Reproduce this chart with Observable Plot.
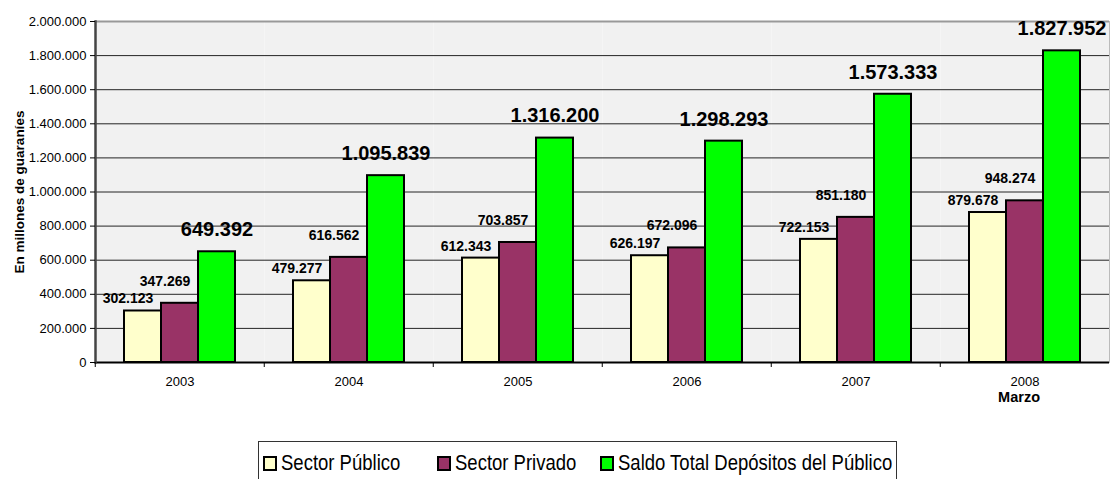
<!DOCTYPE html>
<html>
<head>
<meta charset="utf-8">
<script src="https://cdn.jsdelivr.net/npm/d3@7"></script>
<script src="https://cdn.jsdelivr.net/npm/@observablehq/plot@0.6"></script>
<style>
  html, body { margin: 0; padding: 0; background: #fff; }
  body { width: 1112px; height: 479px; overflow: hidden; font-family: "Liberation Sans", Arial, sans-serif; }
  g[aria-label="y-axis label"] text { font-weight: bold; font-size: 13.5px; }
  #legend { box-sizing: border-box; position: relative; margin-left: 258px; margin-top: 21px; width: 639px; height: 60px;
            border: 1px solid #333; font-size: 18.5px; color: #000; }
  #legend .item { position: absolute; top: 10px; display: flex; align-items: center; gap: 4px; white-space: nowrap; line-height: 22px; }
  #legend .item span.t { display: inline-block; transform: scaleY(1.15); }
  #legend .sw { width: 10px; height: 11px; border: 2px solid #000; }
</style>
</head>
<body>
<div id="chart"></div>
<div id="legend"></div>
<script>
const years = ["2003", "2004", "2005", "2006", "2007", "2008"];
const series = ["Sector Público", "Sector Privado", "Saldo Total Depósitos del Público"];
const publico = [302123, 479277, 612343, 626197, 722153, 879678];
const privado = [347269, 616562, 703857, 672096, 851180, 948274];
const total = [649392, 1095839, 1316200, 1298293, 1573333, 1827952];
const yTicks = [0, 200000, 400000, 600000, 800000, 1000000, 1200000, 1400000, 1600000, 1800000, 2000000];
const colors = ["#ffffcc", "#993366", "#00ff00"];
const yLabel = "En millones de guaraníes";
const note = [{year: "2008", text: "Marzo"}];

const values = [publico, privado, total];
const data = years.flatMap((yr, i) => series.map((s, k) => ({year: yr, series: s, value: values[k][i]})));

const fmt = d3.formatLocale({decimal: ",", thousands: ".", grouping: [3], currency: ["", ""]}).format(",d");

const W = 1112, ML = 93, MR = 2;
const step = (W - ML - MR) / years.length;

const labelMark = (k, opts) => Plot.text(data.filter(d => d.series === series[k]), {
  fx: "year", x: "series", y: "value", text: d => fmt(d.value),
  fontWeight: "bold", fill: "#000", ariaLabel: "value-label", ...opts
});

const chart = Plot.plot({
  width: W, height: 420,
  marginLeft: ML, marginRight: MR, marginTop: 21, marginBottom: 58,
  style: {fontFamily: "'Liberation Sans', Arial, sans-serif", fontSize: "13px", color: "#000", background: "#fff", overflow: "visible"},
  fx: {domain: years, padding: 0, label: null},
  x: {domain: series, paddingInner: 0, paddingOuter: 0.75, axis: null},
  y: {domain: [0, 2000000]},
  color: {domain: series, range: colors},
  marks: [
    Plot.frame({fill: "#f1f1f1", stroke: null}),
    Plot.gridY(yTicks.slice(1, -1), {stroke: "#000", strokeOpacity: 0.85, strokeWidth: 1}),
    Plot.ruleY([2000000], {stroke: "#999", strokeWidth: 2}),
    Plot.barY(data, {fx: "year", x: "series", y: "value", fill: "series", stroke: "#000", strokeWidth: 2}),
    Plot.ruleY([0], {stroke: "#000", strokeWidth: 2}),
    Plot.frame({anchor: "left", facetAnchor: "left", stroke: "#444", strokeWidth: 2.5}),
    Plot.frame({anchor: "right", facetAnchor: "right", stroke: "#bbb", strokeWidth: 1}),
    Plot.axisY(yTicks, {tickSize: 5, tickPadding: 4, tickFormat: fmt, fontSize: 13,
      label: yLabel, labelAnchor: "center", labelOffset: 81, labelArrow: "none"}),
    Plot.axisFx({anchor: "bottom", tickSize: 0, tickPadding: 14, fontSize: 13, label: null}),
    Plot.axisFx({anchor: "bottom", tickSize: 5, tickFormat: () => "", dx: -step / 2, label: null}),
    Plot.text(note, {fx: "year", text: "text", frameAnchor: "bottom", dy: 39, dx: 15, textAnchor: "end", fontWeight: "bold", fontSize: 14.5}),
    labelMark(0, {dx: -15, dy: -12, fontSize: 14}),
    labelMark(1, {dx: -15, dy: -22, fontSize: 14}),
    labelMark(2, {dx: 0, dy: -22, fontSize: 20})
  ]
});

document.getElementById("chart").append(chart);

// white boxes behind the value labels
chart.querySelectorAll('g[aria-label="value-label"] text').forEach(t => {
  const b = t.getBBox();
  const r = document.createElementNS("http://www.w3.org/2000/svg", "rect");
  r.setAttribute("x", b.x - 2);
  r.setAttribute("y", b.y - 1);
  r.setAttribute("width", b.width + 4);
  r.setAttribute("height", b.height + 2);
  r.setAttribute("fill", "#fff");
  if (t.getAttribute("transform")) r.setAttribute("transform", t.getAttribute("transform"));
  t.parentNode.insertBefore(r, t);
});

// legend
const legend = document.getElementById("legend");
const legendLeft = [4, 178, 341];
series.forEach((s, k) => {
  const it = document.createElement("div");
  it.className = "item";
  it.style.left = legendLeft[k] + "px";
  const sw = document.createElement("span");
  sw.className = "sw";
  sw.style.background = colors[k];
  const tx = document.createElement("span");
  tx.className = "t";
  tx.textContent = s;
  it.append(sw, tx);
  legend.append(it);
});
</script>
</body>
</html>
